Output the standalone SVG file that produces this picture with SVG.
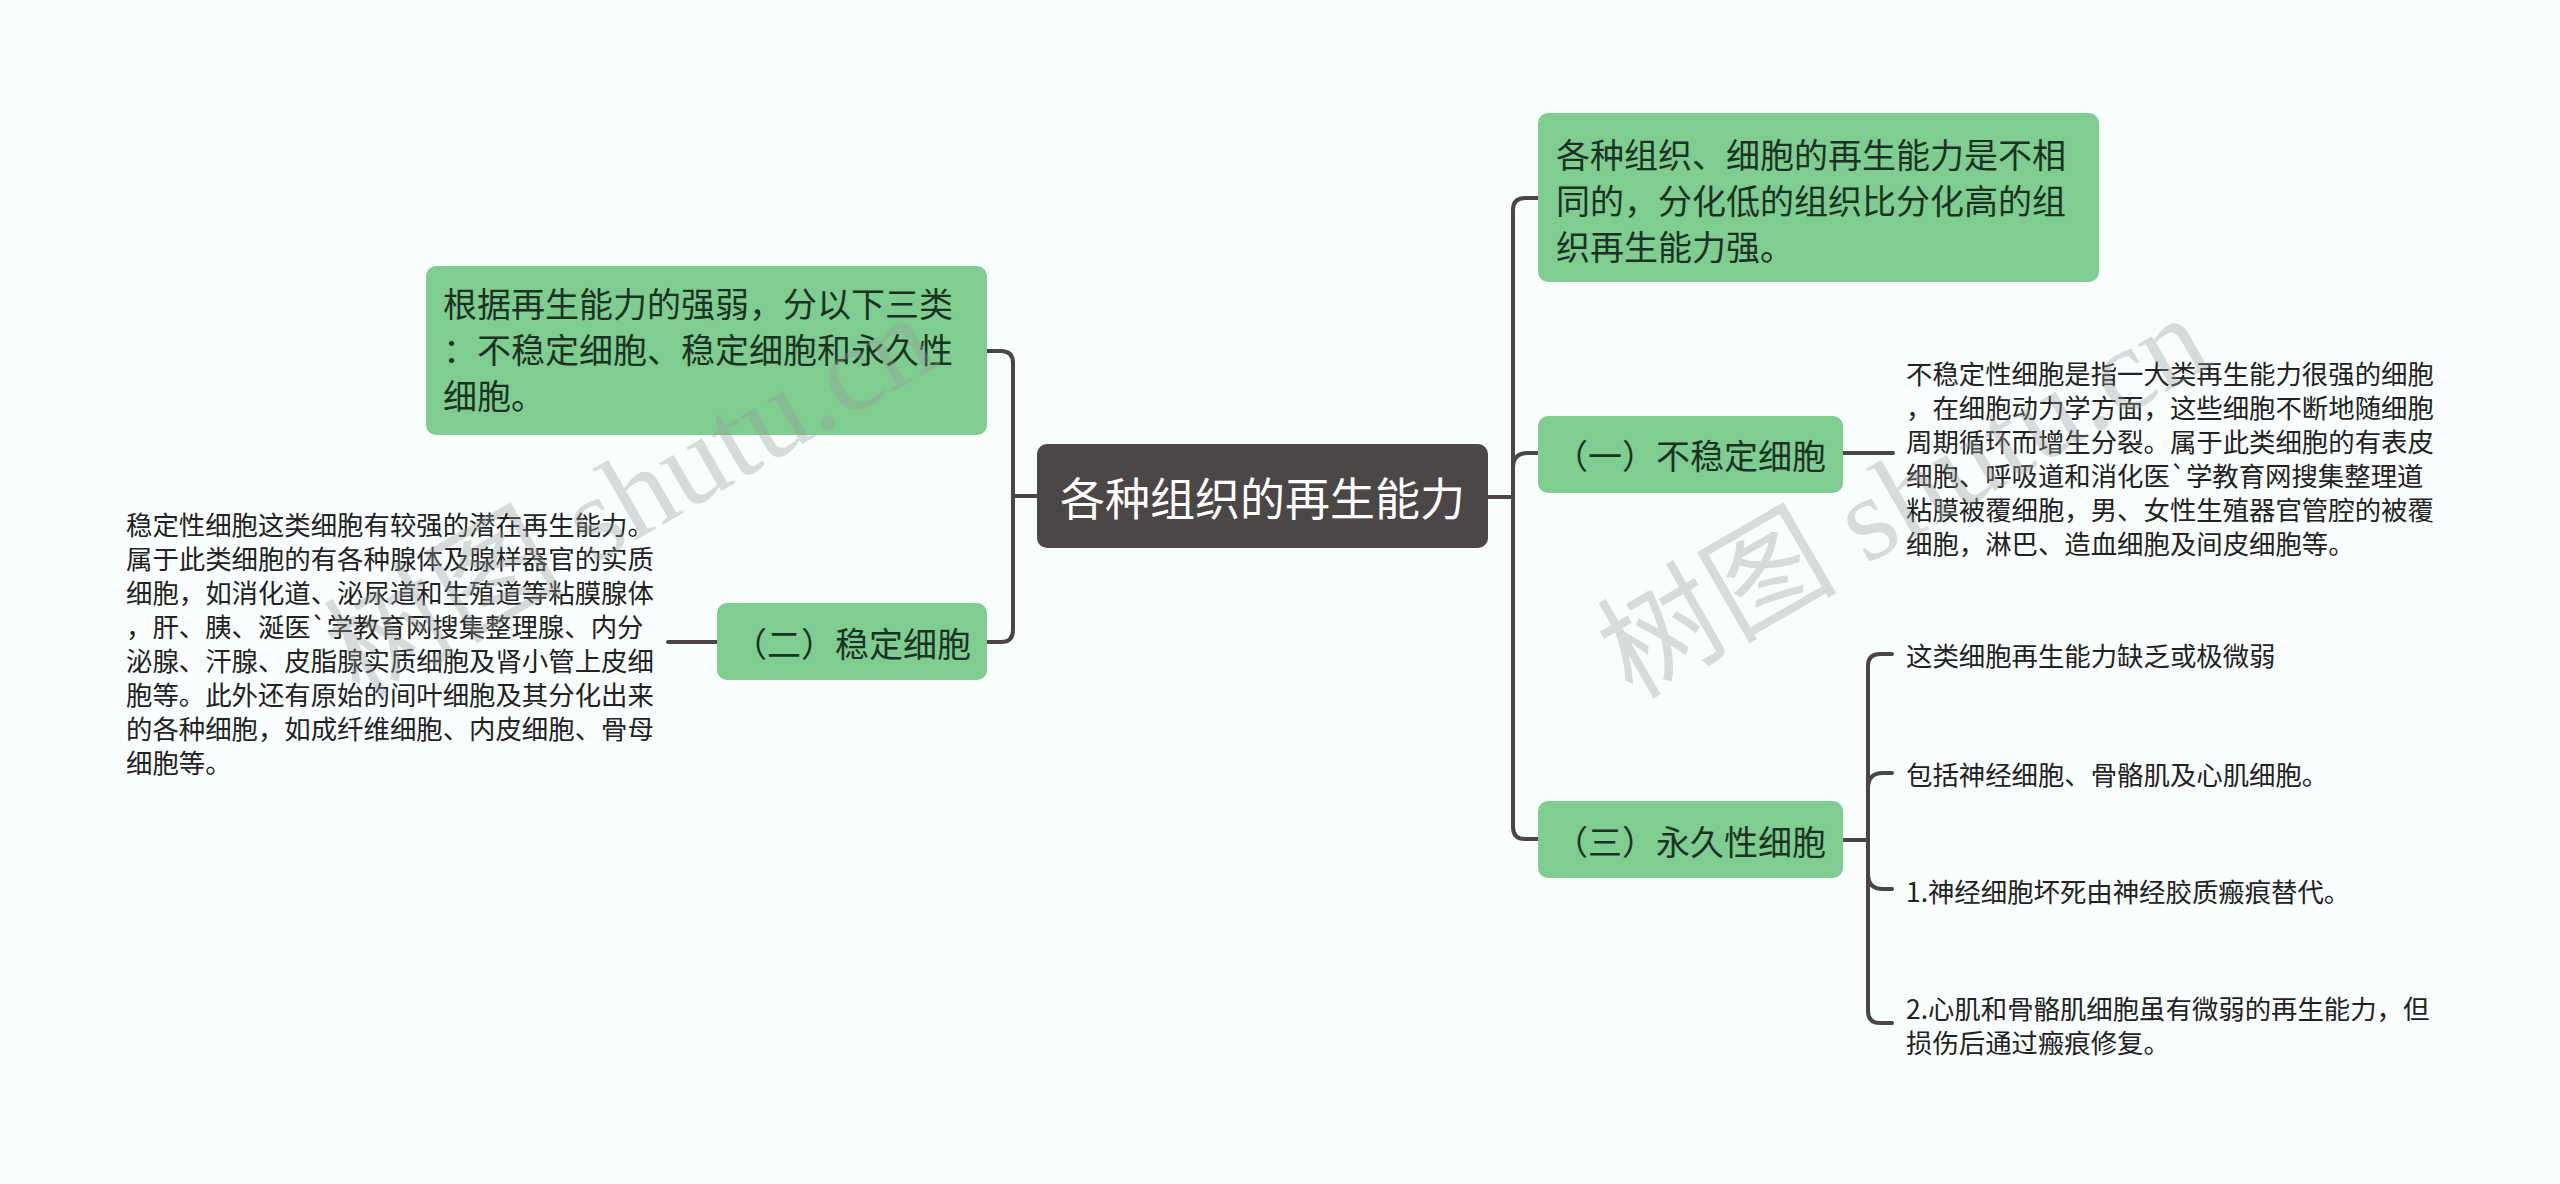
<svg xmlns="http://www.w3.org/2000/svg" width="2560" height="1184" viewBox="0 0 2560 1184">
<style>
.bg{fill:#f9fdfd}
.green{fill:#7fcd91}
.root{fill:#4b4747}
.conn{fill:none;stroke:#4a4646;stroke-width:4;stroke-linecap:round;stroke-linejoin:round}
.t{font-family:"Noto Sans CJK SC","Noto Sans",sans-serif;dominant-baseline:central}
.tn{font-size:34px;fill:#1c3324}
.ts{font-size:26.4px;fill:#222222}
.tr{font-size:45px;fill:#ffffff}
.wm{font-family:"Liberation Serif","Noto Sans CJK SC",serif;font-size:120px;fill:#9a9a9a;fill-opacity:0.35}
</style>
<rect class="bg" x="0" y="0" width="2560" height="1184"/>

<g id="connectors">
  <path class="conn" d="M1037,496 H1013"/>
  <path class="conn" d="M987,351 H1001 Q1013,351 1013,363 V630 Q1013,642 1001,642 H987"/>
  <path class="conn" d="M717,642 H668"/>
  <path class="conn" d="M1488,497 H1513"/>
  <path class="conn" d="M1538,198 H1525 Q1513,198 1513,210 V827 Q1513,839 1525,839 H1538"/>
  <path class="conn" d="M1513,468 Q1513,453 1528,453 H1538"/>
  <path class="conn" d="M1843,453 H1893"/>
  <path class="conn" d="M1843,840 H1868"/>
  <path class="conn" d="M1892,654 H1880 Q1868,654 1868,666 V1011 Q1868,1023 1880,1023 H1892"/>
  <path class="conn" d="M1868,788 Q1868,773 1883,773 H1892"/>
  <path class="conn" d="M1868,874 Q1868,889 1883,889 H1892"/>
</g>

<g id="root">
  <rect class="root" x="1037" y="444" width="451" height="104" rx="10"/>
  <text class="t tr" x="1262.5" y="496" text-anchor="middle">各种组织的再生能力</text>
</g>

<g id="node-classify">
  <rect class="green" x="426" y="266" width="561" height="169" rx="10"/>
  <text class="t tn" x="443" y="302">根据再生能力的强弱，分以下三类</text>
  <text class="t tn" x="443" y="348">：不稳定细胞、稳定细胞和永久性</text>
  <text class="t tn" x="443" y="394">细胞。</text>
</g>

<g id="node-stable">
  <rect class="green" x="717" y="603" width="270" height="77" rx="10"/>
  <text class="t tn" x="733" y="642">（二）稳定细胞</text>
</g>

<g id="text-stable">
  <text class="t ts" x="126" y="523">稳定性细胞这类细胞有较强的潜在再生能力。</text>
  <text class="t ts" x="126" y="557">属于此类细胞的有各种腺体及腺样器官的实质</text>
  <text class="t ts" x="126" y="591">细胞，如消化道、泌尿道和生殖道等粘膜腺体</text>
  <text class="t ts" x="126" y="625">，肝、胰、涎医`学教育网搜集整理腺、内分</text>
  <text class="t ts" x="126" y="659">泌腺、汗腺、皮脂腺实质细胞及肾小管上皮细</text>
  <text class="t ts" x="126" y="693">胞等。此外还有原始的间叶细胞及其分化出来</text>
  <text class="t ts" x="126" y="727">的各种细胞，如成纤维细胞、内皮细胞、骨母</text>
  <text class="t ts" x="126" y="761">细胞等。</text>
</g>

<g id="node-intro">
  <rect class="green" x="1538" y="113" width="561" height="169" rx="10"/>
  <text class="t tn" x="1556" y="153">各种组织、细胞的再生能力是不相</text>
  <text class="t tn" x="1556" y="199">同的，分化低的组织比分化高的组</text>
  <text class="t tn" x="1556" y="245">织再生能力强。</text>
</g>

<g id="node-labile">
  <rect class="green" x="1538" y="416" width="305" height="77" rx="10"/>
  <text class="t tn" x="1554" y="454">（一）不稳定细胞</text>
</g>

<g id="text-labile">
  <text class="t ts" x="1906" y="372">不稳定性细胞是指一大类再生能力很强的细胞</text>
  <text class="t ts" x="1906" y="406">，在细胞动力学方面，这些细胞不断地随细胞</text>
  <text class="t ts" x="1906" y="440">周期循环而增生分裂。属于此类细胞的有表皮</text>
  <text class="t ts" x="1906" y="474">细胞、呼吸道和消化医`学教育网搜集整理道</text>
  <text class="t ts" x="1906" y="508">粘膜被覆细胞，男、女性生殖器官管腔的被覆</text>
  <text class="t ts" x="1906" y="542">细胞，淋巴、造血细胞及间皮细胞等。</text>
</g>

<g id="node-permanent">
  <rect class="green" x="1538" y="801" width="305" height="77" rx="10"/>
  <text class="t tn" x="1554" y="840">（三）永久性细胞</text>
</g>

<g id="text-permanent-1">
  <text class="t ts" x="1906" y="654">这类细胞再生能力缺乏或极微弱</text>
</g>
<g id="text-permanent-2">
  <text class="t ts" x="1906" y="773">包括神经细胞、骨骼肌及心肌细胞。</text>
</g>
<g id="text-permanent-3">
  <text class="t ts" x="1906" y="890">1.神经细胞坏死由神经胶质瘢痕替代。</text>
</g>
<g id="text-permanent-4">
  <text class="t ts" x="1906" y="1007">2.心肌和骨骼肌细胞虽有微弱的再生能力，但</text>
  <text class="t ts" x="1906" y="1041">损伤后通过瘢痕修复。</text>
</g>

<g id="watermarks">
  <text class="wm" transform="translate(359,700) rotate(-30)">树图 shutu.cn</text>
  <text class="wm" transform="translate(1632,700) rotate(-30)">树图 shutu.cn</text>
</g>
</svg>
